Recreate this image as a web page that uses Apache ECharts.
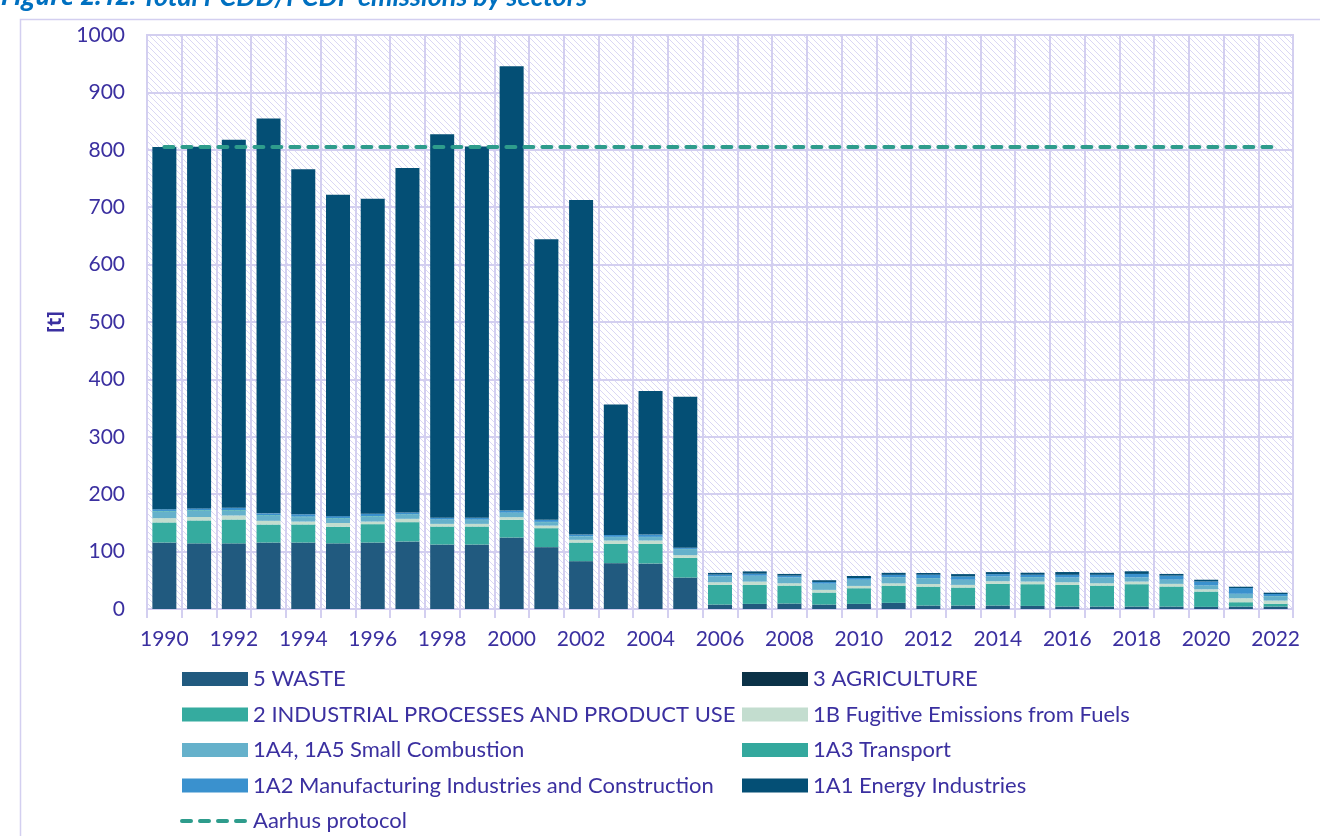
<!DOCTYPE html>
<html>
<head>
<meta charset="utf-8">
<script src="https://cdn.jsdelivr.net/npm/echarts@6/dist/echarts.min.js"></script>
<style>
  html, body { margin: 0; padding: 0; background: #fff; }
  #main { width: 1320px; height: 836px; }
</style>
</head>
<body>
<div id="main"></div>
<script>
// categories
const years = ['1990','1991','1992','1993','1994','1995','1996','1997','1998','1999',
  '2000','2001','2002','2003','2004','2005','2006','2007','2008','2009','2010',
  '2011','2012','2013','2014','2015','2016','2017','2018','2019','2020','2021','2022'];

// emissions per sector [t]
const waste = [115.5,114,114,115.5,115.5,114,115.5,117.3,112,112,124.2,107.5,83,79.6,79,54.5,
  7.5,8.7,9.3,7.5,8.7,10.5,5.8,5.8,5.8,5.2,4,4,4,4,3.5,4,4];
const agriculture = [0.3,0.3,0.3,0.3,0.3,0.3,0.3,0.3,0.3,0.3,0.3,0.3,0.3,0.3,0.3,0.3,
  0.2,0.2,0.2,0.2,0.2,0.2,0.2,0.2,0.2,0.2,0.2,0.2,0.2,0.2,0.2,0.2,0.2];
const ippu = [35,40,41.6,31.4,31.5,29,32,33.7,31.4,31.4,30.8,33,32.5,33.4,34,34.3,
  34.3,33,31.3,21,27.3,30,33,31.4,37.7,37.8,37.8,36.6,39,35,26.7,7.6,4.7];
const fugitive = [7.5,6,7,6.4,5,6.5,4.5,5.8,4.6,4.6,4.7,4.5,4.7,6,6,4.7,
  4.6,5.8,4,4.6,4,4,4.6,4.6,4.7,4.6,4.6,4,4.6,4.6,4,7,5.8];
const smallComb = [11.5,11,8.5,9,7.7,7.5,8.8,7,7,6.7,7.3,6,5.8,6,6,10.5,
  10,10,10,10.5,10.5,10.5,10,8.7,8,7.6,8,9.8,7,7,6.3,7.4,7.5];
const transport = [1,1,1,1,1,1,0.8,0.8,0.6,0.6,0.5,0.5,0.4,0.4,0.4,0.4,
  0.3,0.3,0.3,0.3,0.3,0.3,0.3,0.3,0.3,0.3,0.3,0.3,0.3,0.3,0.3,0.3,0.3];
const manufacturing = [3,3,4,3,4,3.5,4,3.2,3,3.3,3.7,3.5,3,3.4,4,2,
  3,3.5,3,3,3,4,5.8,5.8,4,4,4.7,4.7,6,7,7,10,3.6];
const energy = [631,630,641,688,601,560,549,600,668,647,774,489,583,227,250,263,
  3,4,3,3,3.5,3.5,3,4,3.6,3.5,4.8,3.5,4.6,3,3,2.3,2.3];
const aarhus = [805,805,805,805,805,805,805,805,805,805,805,805,805,805,805,805,
  805,805,805,805,805,805,805,805,805,805,805,805,805,805,805,805,805];

const yTicks = { min: 0, max: 1000, interval: 100 };

const txt = '#3B30A0';
const gridCol = '#D3CFF0';
const font = 'Lato';
const aarhusCol = '#2E9C8C';

// hatched plot background
const hatch = document.createElement('canvas');
hatch.width = 6; hatch.height = 6;
const hc = hatch.getContext('2d');
hc.fillStyle = '#ffffff';
hc.fillRect(0, 0, 6, 6);
hc.strokeStyle = 'rgba(205,201,240,0.75)';
hc.lineWidth = 1;
hc.beginPath();
hc.moveTo(0, 0); hc.lineTo(6, 6);
hc.moveTo(-3, 3); hc.lineTo(3, 9);
hc.moveTo(3, -3); hc.lineTo(9, 3);
hc.stroke();

const chart = echarts.init(document.getElementById('main'));

function bar(name, data, color) {
  return {
    name: name, type: 'bar', stack: 'total', data: data, barWidth: 24,
    itemStyle: { color: color }
  };
}

const legendText = { color: txt, fontFamily: font, fontSize: 22, lineHeight: 20 };

const option = {
  animation: false,
  backgroundColor: '#fff',
  title: {
    text: '{b|Figure 2.12:} {n|Total PCDD/PCDF emissions by sectors}',
    left: 1, top: -16, padding: 0,
    textStyle: {
      rich: {
        b: { fontFamily: 'Open Sans', fontSize: 25, fontStyle: 'italic', fontWeight: 'bold', color: '#0070C0' },
        n: { fontFamily: font, fontSize: 27, fontStyle: 'italic', color: '#0070C0' }
      }
    }
  },
  graphic: [{
    type: 'rect', left: 18, top: 17, z: -10,
    shape: { width: 1400, height: 900 },
    style: { fill: 'none', stroke: gridCol, lineWidth: 1.5 }
  }],
  grid: {
    left: 147, right: 27, top: 35, bottom: 227,
    show: true, backgroundColor: { image: hatch, repeat: 'repeat' },
    borderColor: gridCol, borderWidth: 2
  },
  legend: [{
    orient: 'vertical', left: 180, top: 668, height: 200, padding: 0,
    itemWidth: 66, itemHeight: 14, itemGap: 13.5,
    textStyle: legendText,
    data: [
      { name: '5 WASTE', icon: 'rect' },
      { name: '2 INDUSTRIAL PROCESSES AND PRODUCT USE', icon: 'rect' },
      { name: '1A4, 1A5 Small Combustion', icon: 'rect' },
      { name: '1A2 Manufacturing Industries and Construction', icon: 'rect' },
      { name: 'Aarhus protocol', itemStyle: { opacity: 0 },
        lineStyle: { color: aarhusCol, width: 4, type: [9, 9], cap: 'round' } }
    ]
  }, {
    orient: 'vertical', left: 742, top: 668, height: 200, padding: 0,
    itemWidth: 66, itemHeight: 14, itemGap: 13.5,
    textStyle: legendText,
    data: [
      { name: '3 AGRICULTURE', icon: 'rect' },
      { name: '1B Fugitive Emissions from Fuels', icon: 'rect' },
      { name: '1A3 Transport', icon: 'rect' },
      { name: '1A1 Energy Industries', icon: 'rect' }
    ]
  }],
  xAxis: {
    type: 'category', data: years,
    axisLine: { lineStyle: { color: gridCol, width: 2 } },
    axisTick: { show: true, interval: 0, length: 9, lineStyle: { color: gridCol, width: 2 } },
    axisLabel: { interval: 1, color: txt, fontFamily: font, fontSize: 21, margin: 20 },
    splitLine: { show: true, interval: 0, lineStyle: { color: gridCol, width: 2 } }
  },
  yAxis: {
    type: 'value', min: yTicks.min, max: yTicks.max, interval: yTicks.interval,
    name: '[t]', nameLocation: 'middle', nameGap: 80, nameRotate: 90,
    nameTextStyle: { color: txt, fontFamily: 'Open Sans', fontSize: 20, fontWeight: 'bold' },
    axisLine: { show: false }, axisTick: { show: false },
    axisLabel: { color: txt, fontFamily: font, fontSize: 21, margin: 22,
      formatter: function (v) { return String(v); } },
    splitLine: { lineStyle: { color: gridCol, width: 2 } }
  },
  series: [
    bar('5 WASTE', waste, '#215A7F'),
    bar('3 AGRICULTURE', agriculture, '#0B3247'),
    bar('2 INDUSTRIAL PROCESSES AND PRODUCT USE', ippu, '#35AB9F'),
    bar('1B Fugitive Emissions from Fuels', fugitive, '#C3DDCF'),
    bar('1A4, 1A5 Small Combustion', smallComb, '#65B1CB'),
    bar('1A3 Transport', transport, '#33A89D'),
    bar('1A2 Manufacturing Industries and Construction', manufacturing, '#3A91CE'),
    bar('1A1 Energy Industries', energy, '#044F75'),
    {
      name: 'Aarhus protocol', type: 'line', data: aarhus, symbol: 'none', z: 5,
      itemStyle: { color: aarhusCol },
      lineStyle: { color: aarhusCol, width: 4, type: [9, 9], cap: 'round' }
    }
  ]
};

chart.setOption(option);
</script>
</body>
</html>
